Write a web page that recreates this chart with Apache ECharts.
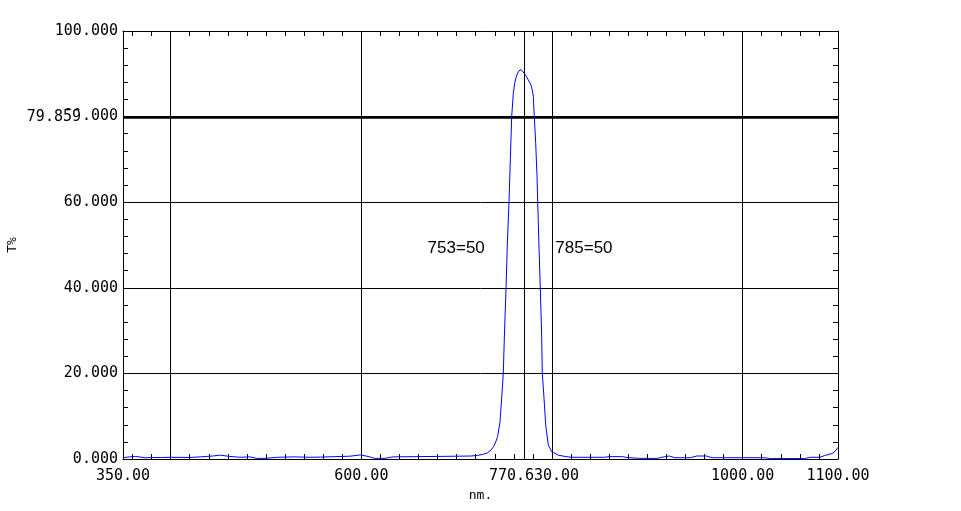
<!DOCTYPE html>
<html><head><meta charset="utf-8">
<script src="https://cdn.jsdelivr.net/npm/echarts@6/dist/echarts.min.js"></script>
<style>html,body{margin:0;padding:0;background:#fff}#c{width:961px;height:511px}</style>
</head><body><div id="c"></div>
<script>
const wavelength = [350,357,363,373,389,401,420,438,444,452,462,473,483,490,499,512,530,546,557,572,588,599,607,614,625,633,655,679,700,715,722,727,732,736,739,741,743,745.5,747.2,748.9,750,751.8,753.1,754.9,756.3,757.7,759.4,761,763,765,767.5,769,770.9,773,775.1,778,779.5,780.4,781.4,782.9,784.3,785,786.3,787.7,789.2,789.8,791.6,793.4,796.1,799.7,806.6,813.6,820,840,855,860,874,880,892,911,915,923,929,945,952,962,968,997,1023,1029,1065,1071,1081,1086,1094,1097,1100];
const transmittance = [0.3,0.5,0.6,0.3,0.35,0.4,0.35,0.6,0.7,0.9,0.6,0.4,0.5,0.15,0.15,0.4,0.5,0.4,0.45,0.55,0.65,0.95,0.6,0.15,0.15,0.5,0.55,0.6,0.65,0.7,0.85,1.05,1.4,2.1,3.0,4.0,5.3,8.7,14.2,20.0,28.3,40.1,50.0,60.1,69.9,80.0,85.4,88.0,89.7,90.6,91.0,90.6,90.1,89.4,88.6,87.4,86.0,84.7,80.0,73.8,66.0,60.1,50.0,40.2,28.3,20.1,14.3,7.9,3.3,1.7,0.9,0.6,0.4,0.4,0.4,0.55,0.55,0.3,0.15,0.15,0.4,0.7,0.3,0.3,0.7,0.7,0.3,0.3,0.3,0.1,0.1,0.4,0.4,0.8,1.3,1.8,2.7];
const xLabelValues = [350, 600, 800, 1000, 1100];
const gridWavelengths = [400, 600, 800, 1000];
const centerWavelength = 770.63;
const referenceLevel = 79.859;
const annotationTexts = ['753=50', '785=50'];
const xMinorTicks = [];
for (let v = 360; v <= 1100; v += 20) xMinorTicks.push(v);

const MONO = 'DejaVu Sans Mono';
const FS = 15;
const chart = echarts.init(document.getElementById('c'));

function xAxisBase(pos) {
  return {
    type: 'value', position: pos, min: 350, max: 1100,
    axisLine: { show: true, onZero: false, lineStyle: { color: '#000', width: 1 } },
    axisTick: { show: true, inside: true, length: 5, customValues: xMinorTicks, lineStyle: { color: '#000' } },
    splitLine: { show: false },
    axisLabel: { show: false }
  };
}
function yAxisBase(pos) {
  return {
    type: 'value', position: pos, min: 0, max: 100, interval: 20,
    axisLine: { show: true, onZero: false, lineStyle: { color: '#000', width: 1 } },
    axisTick: { show: true, inside: true, length: 5, lineStyle: { color: '#000' } },
    minorTick: { show: true, splitNumber: 5, length: 5, lineStyle: { color: '#000' } },
    splitLine: { show: false },
    axisLabel: { show: false }
  };
}

const xBottom = xAxisBase('bottom');
xBottom.axisLabel = {
  show: true, customValues: xLabelValues, margin: 10,
  formatter: v => Number(v).toFixed(2), color: '#000', fontFamily: MONO, fontSize: FS
};
xBottom.name = 'nm.';
xBottom.nameLocation = 'middle';
xBottom.nameGap = 30;
xBottom.nameTextStyle = { color: '#000', fontFamily: MONO, fontSize: 13 };

const yLeft = yAxisBase('left');
yLeft.axisLabel = {
  show: true, margin: 5, showMaxLabel: true, showMinLabel: true,
  formatter: v => Number(v).toFixed(3), color: '#000', fontFamily: MONO, fontSize: FS
};
yLeft.splitLine = { show: true, lineStyle: { color: '#000', width: 1, type: 'solid' } };
yLeft.name = 'T%';
yLeft.nameLocation = 'middle';
yLeft.nameGap = 104;
yLeft.nameTextStyle = { color: '#000', fontFamily: MONO, fontSize: 13 };

const markLineData = gridWavelengths.map(v => ({ xAxis: v, label: { show: false } }));
markLineData.push({
  xAxis: centerWavelength,
  label: {
    show: true, position: 'start', distance: 10,
    formatter: '{a|' + centerWavelength.toFixed(2) + '}{b| }',
    rich: {
      a: { backgroundColor: '#fff', color: '#000', fontFamily: MONO, fontSize: FS },
      b: { width: 16, fontFamily: MONO, fontSize: FS }
    }
  }
});
markLineData.push({
  yAxis: referenceLevel,
  lineStyle: { color: '#000', width: 2.5, type: 'solid' },
  label: {
    show: true, position: 'start', distance: 42,
    formatter: referenceLevel.toFixed(3),
    backgroundColor: '#fff', color: '#000', fontFamily: MONO, fontSize: FS
  }
});

chart.setOption({
  animation: false,
  backgroundColor: '#fff',
  grid: { left: 123, right: 123, top: 31, bottom: 52, outerBoundsMode: 'none', containLabel: false },
  xAxis: [xBottom, xAxisBase('top')],
  yAxis: [yLeft, yAxisBase('right')],
  series: [
    {
      type: 'line', data: [], xAxisIndex: 0, yAxisIndex: 0, z: 1, silent: true,
      markLine: {
        silent: true, symbol: ['none', 'none'], z: 1, animation: false,
        lineStyle: { color: '#000', width: 1, type: 'solid' },
        emphasis: { disabled: true },
        data: markLineData
      },
      markPoint: {
        silent: true, symbol: 'circle', symbolSize: 0, animation: false,
        label: { show: true, color: '#000', fontFamily: 'Liberation Sans', fontSize: 17, distance: 0 },
        data: [
          { coord: [729.5, 49.3], label: { position: 'left', formatter: annotationTexts[0] } },
          { coord: [803.5, 49.3], label: { position: 'right', formatter: annotationTexts[1] } }
        ]
      }
    },
    {
      type: 'line', xAxisIndex: 0, yAxisIndex: 0, z: 3, silent: true,
      data: wavelength.map((w, i) => [w, transmittance[i]]),
      showSymbol: false, smooth: false,
      lineStyle: { color: '#0000ff', width: 1 },
      emphasis: { disabled: true }
    }
  ]
});
</script>
</body></html>
